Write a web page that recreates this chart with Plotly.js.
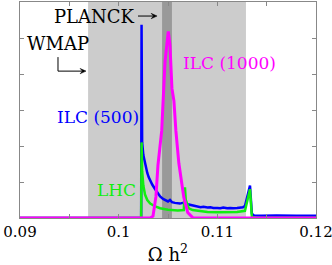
<!DOCTYPE html>
<html><head><meta charset="utf-8">
<script src="https://cdn.plot.ly/plotly-3.0.1.min.js"></script>
<style>html,body{margin:0;padding:0;background:#fff}#c{width:332px;height:265px}</style>
</head><body><div id="c"></div>
<script>
const ilc500X = [0.09, 0.1022, 0.10228, 0.10232, 0.10238, 0.1025, 0.10267, 0.1029, 0.10305, 0.10318, 0.1034, 0.1037, 0.1040, 0.1042, 0.1045, 0.1048, 0.1050, 0.1052, 0.1054, 0.1057, 0.1060, 0.1062, 0.1065, 0.1067, 0.1070, 0.1073, 0.1076, 0.1080, 0.1083, 0.1086, 0.1090, 0.1093, 0.1096, 0.1100, 0.1103, 0.1106, 0.1110, 0.1113, 0.1116, 0.1120, 0.1123, 0.1126, 0.1128, 0.11331, 0.1135, 0.1137, 0.1145, 0.1160, 0.1180, 0.12];
const ilc500Y = [0, 0, 0, 5.37, 2.1, 1.75, 1.5, 1.25, 1.13, 1.05, 0.93, 0.8, 0.68, 0.6, 0.53, 0.48, 0.46, 0.5, 0.44, 0.42, 0.41, 0.4, 0.42, 0.44, 0.38, 0.36, 0.33, 0.32, 0.3, 0.31, 0.29, 0.3, 0.28, 0.28, 0.27, 0.29, 0.27, 0.28, 0.27, 0.28, 0.29, 0.3, 0.33, 0.9, 0.12, 0.07, 0.06, 0.07, 0.06, 0.06];
const lhcX = [0.09, 0.1022, 0.10228, 0.10232, 0.10238, 0.1025, 0.10267, 0.1029, 0.1032, 0.1037, 0.1042, 0.1050, 0.1060, 0.1066, 0.10672, 0.1068, 0.1071, 0.1075, 0.1080, 0.1090, 0.1100, 0.1110, 0.1120, 0.1128, 0.11331, 0.1135, 0.1140, 0.12];
const lhcY = [0, 0, 0, 2.1, 1.3, 0.9, 0.65, 0.5, 0.4, 0.32, 0.27, 0.23, 0.21, 0.22, 0.85, 0.5, 0.27, 0.22, 0.2, 0.17, 0.16, 0.16, 0.17, 0.2, 0.8, 0.03, 0.01, 0.01];
const ilc1000X = [0.09, 0.10318, 0.10348, 0.10378, 0.10398, 0.10436, 0.1047, 0.10503, 0.1052, 0.1054, 0.1056, 0.1058, 0.1061, 0.1066, 0.1070, 0.1075, 0.12];
const ilc1000Y = [0, 0, 0.05, 0.6, 1.46, 2.42, 4.35, 5.18, 4.8, 3.6, 3.25, 2.42, 1.52, 0.58, 0.15, 0.01, 0];
const xTickVals = [0.09, 0.1, 0.11, 0.12];
const xTickText = ['0.09', '0.1', '0.11', '0.12'];
const wmapBand = [0.0969, 0.1129];
const planckBand = [0.1044, 0.1054];

const serif = 'DejaVu Serif';
const traces = [
  {x: ilc500X, y: ilc500Y, mode: 'lines', line: {color: '#0000ff', width: 2.5}, hoverinfo: 'skip'},
  {x: lhcX, y: lhcY, mode: 'lines', line: {color: '#11ee11', width: 2.5}, hoverinfo: 'skip'},
  {x: ilc1000X, y: ilc1000Y, mode: 'lines', line: {color: '#ff00ff', width: 3}, hoverinfo: 'skip'}
];
function arrowHead(xTip, y) {
  const len = 0.0006, half = 0.075;
  return {type: 'path', xref: 'x', yref: 'y', path: 'M' + xTip + ',' + y + ' L' + (xTip - len) + ',' + (y + half) + ' L' + (xTip - len * 0.6) + ',' + y + ' L' + (xTip - len) + ',' + (y - half) + ' Z', fillcolor: '#000', line: {color: '#000', width: 0.5}};
}
const layout = {
  width: 332, height: 265,
  margin: {l: 20, r: 16, t: 2, b: 47},
  paper_bgcolor: '#fff', plot_bgcolor: '#fff',
  showlegend: false,
  font: {family: serif, color: '#000'},
  xaxis: {range: [0.09, 0.12], tickvals: xTickVals, ticktext: xTickText, ticks: 'inside', ticklen: 4, tickcolor: '#888',
    minor: {dtick: 0.005, ticks: 'inside', ticklen: 4, tickcolor: '#888', showgrid: false},
    ticklabeloverflow: 'allow',
    showline: true, mirror: 'ticks', linecolor: '#888', linewidth: 1, showgrid: false, zeroline: false,
    tickfont: {size: 15, family: serif}, title: {text: 'Ω h<sup>2</sup>', font: {size: 18, family: serif}, standoff: 9}},
  yaxis: {range: [0, 6], tickvals: [0, 1, 2, 3, 4, 5, 6], showticklabels: false, ticks: 'inside', ticklen: 4, tickcolor: '#888',
    showline: true, mirror: 'ticks', linecolor: '#888', linewidth: 1, showgrid: false, zeroline: false},
  shapes: [
    {type: 'rect', xref: 'x', yref: 'paper', x0: wmapBand[0], x1: wmapBand[1], y0: 0, y1: 1, fillcolor: '#cccccc', line: {width: 0}, layer: 'below'},
    {type: 'rect', xref: 'x', yref: 'paper', x0: planckBand[0], x1: planckBand[1], y0: 0, y1: 1, fillcolor: '#999999', line: {width: 0}, layer: 'below'},
    {type: 'line', xref: 'x', yref: 'y', x0: 0.10196, x1: 0.10360, y0: 5.61, y1: 5.61, line: {color: '#000', width: 1}},
    arrowHead(0.10389, 5.61),
    {type: 'line', xref: 'x', yref: 'y', x0: 0.09385, x1: 0.09385, y0: 4.47, y1: 4.08, line: {color: '#000', width: 1}},
    {type: 'line', xref: 'x', yref: 'y', x0: 0.09385, x1: 0.09640, y0: 4.08, y1: 4.08, line: {color: '#000', width: 1}},
    arrowHead(0.09669, 4.08)
  ],
  annotations: [
    {x: 0.10186, y: 5.61, xref: 'x', yref: 'y', text: 'PLANCK', showarrow: false, xanchor: 'right', yanchor: 'middle', font: {size: 18, family: serif, color: '#000'}},
    {x: 0.09051, y: 4.86, xref: 'x', yref: 'y', text: 'WMAP', showarrow: false, xanchor: 'left', yanchor: 'middle', font: {size: 18, family: serif, color: '#000'}},
    {x: 0.09355, y: 2.81, xref: 'x', yref: 'y', text: 'ILC (500)', showarrow: false, xanchor: 'left', yanchor: 'middle', font: {size: 17, family: serif, color: '#0000ff'}},
    {x: 0.10632, y: 4.31, xref: 'x', yref: 'y', text: 'ILC (1000)', showarrow: false, xanchor: 'left', yanchor: 'middle', font: {size: 17, family: serif, color: '#ff00ff'}},
    {x: 0.0976, y: 0.78, xref: 'x', yref: 'y', text: 'LHC', showarrow: false, xanchor: 'left', yanchor: 'middle', font: {size: 17, family: serif, color: '#11ee11'}}
  ]
};
Plotly.newPlot('c', traces, layout, {displayModeBar: false, staticPlot: true});
</script></body></html>
